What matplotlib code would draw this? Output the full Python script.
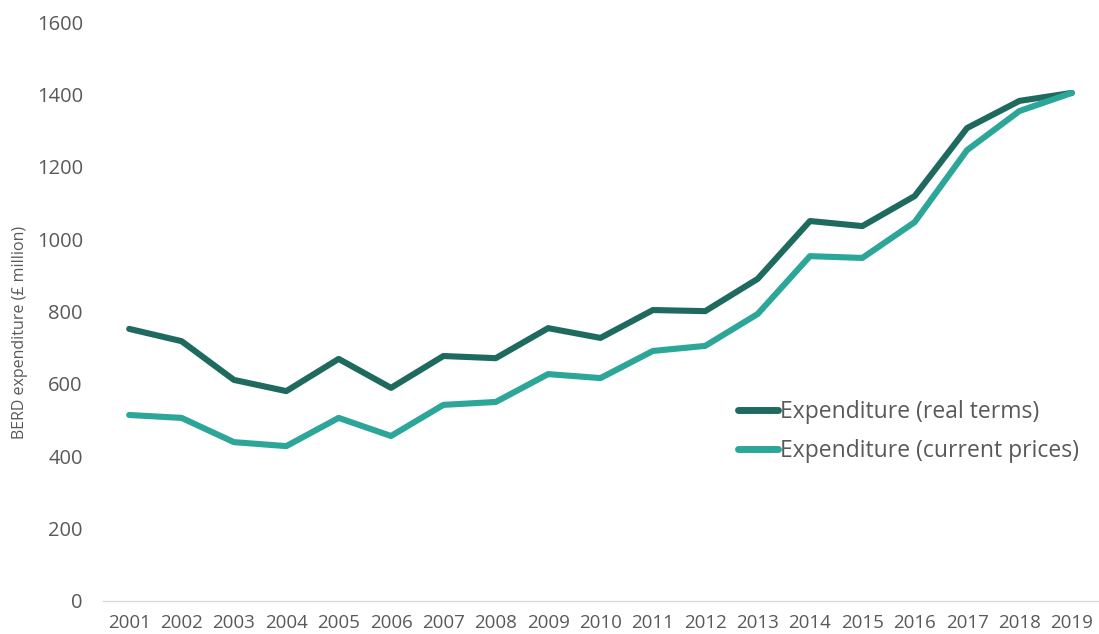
import matplotlib
matplotlib.use("Agg")
import matplotlib.pyplot as plt

years = ["2001", "2002", "2003", "2004", "2005", "2006", "2007", "2008", "2009", "2010",
         "2011", "2012", "2013", "2014", "2015", "2016", "2017", "2018", "2019"]
real_terms = [752, 718, 611, 580, 669, 589, 677, 671, 754, 727,
              804, 801, 890, 1050, 1036, 1119, 1307, 1382, 1404]
current_prices = [514, 506, 439, 428, 506, 456, 542, 550, 627, 616,
                  691, 705, 793, 953, 948, 1047, 1246, 1354, 1404]
y_ticks = [0, 200, 400, 600, 800, 1000, 1200, 1400, 1600]

DARK = "#1E6A5E"
LIGHT = "#2CA698"
TEXT = "#595959"
FONT = "Open Sans"

plt.rcParams["font.family"] = [FONT, "DejaVu Sans"]

fig = plt.figure(figsize=(10.99, 6.34), dpi=100)
ax = fig.add_axes([103 / 1099, 1 - 601 / 634, (1098 - 103) / 1099, (601 - 22) / 634])

x = list(range(len(years)))
ax.plot(x, real_terms, color=DARK, lw=4.4, solid_capstyle="round",
        solid_joinstyle="round", label="Expenditure (real terms)")
ax.plot(x, current_prices, color=LIGHT, lw=4.4, solid_capstyle="round",
        solid_joinstyle="round", label="Expenditure (current prices)")

ax.set_xlim(-0.5, len(years) - 0.5)
ax.set_ylim(0, 1600)
ax.set_xticks(x)
ax.set_xticklabels(years)
ax.set_yticks(y_ticks)
ax.set_yticklabels([str(v) for v in y_ticks])
ax.tick_params(axis="both", length=0, labelcolor=TEXT)
ax.tick_params(axis="y", labelsize=14.5, pad=14.5)
ax.tick_params(axis="x", labelsize=13.5, pad=9)

for side in ("top", "right", "left"):
    ax.spines[side].set_visible(False)
ax.spines["bottom"].set_color("#D9D9D9")
ax.spines["bottom"].set_linewidth(1.0)

fig.text(20 / 1099, 1 - 332 / 634, "BERD expenditure (£ million)", rotation=90,
         ha="center", va="center", fontsize=11.5, color=TEXT)

leg = ax.legend(loc="upper left", bbox_to_anchor=(738 / 1099, 1 - 400 / 634),
                bbox_transform=fig.transFigure, frameon=False, fontsize=16.5,
                handlelength=1.75, handletextpad=0.1, labelspacing=0.65,
                borderaxespad=0, borderpad=0)
for t in leg.get_texts():
    t.set_color(TEXT)
for h in leg.get_lines():
    h.set_linewidth(5.0)

fig.savefig("out.png", dpi=100, facecolor="white")
